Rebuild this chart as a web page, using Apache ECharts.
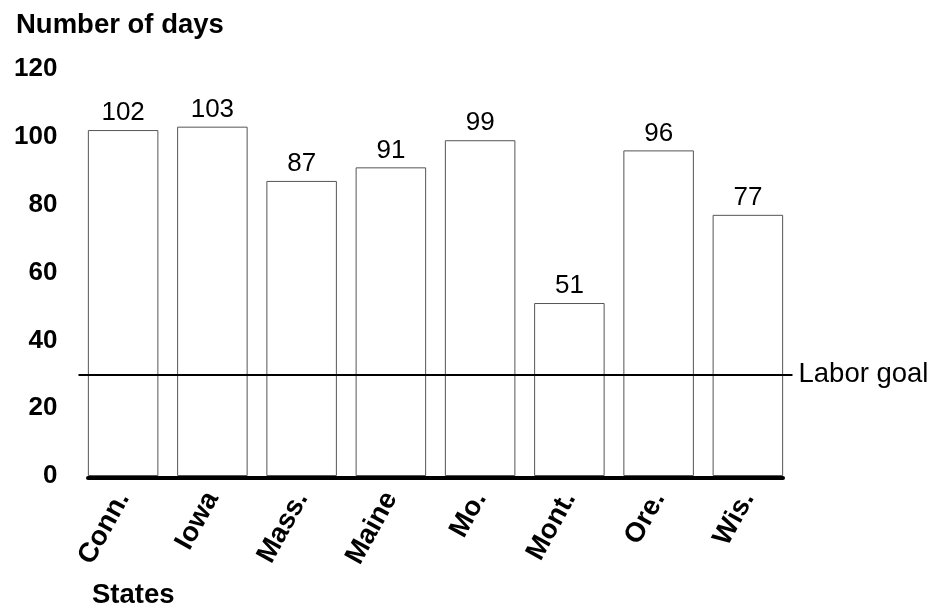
<!DOCTYPE html>
<html><head><meta charset="utf-8">
<script src="https://cdn.jsdelivr.net/npm/echarts@6/dist/echarts.min.js"></script>
<style>html,body{margin:0;padding:0;background:#fff}#c{width:933px;height:609px}</style>
</head><body><div id="c"></div>
<script>
const states = ['Conn.', 'Iowa', 'Mass.', 'Maine', 'Mo.', 'Mont.', 'Ore.', 'Wis.'];
const days = [102, 103, 87, 91, 99, 51, 96, 77];
const laborGoal = 30;
const yTicks = [0, 20, 40, 60, 80, 100, 120];

const FONT = '"Liberation Sans", Arial, Helvetica, sans-serif';
const chart = echarts.init(document.getElementById('c'), null, {renderer: 'canvas'});
chart.setOption({
  animation: false,
  backgroundColor: '#fff',
  textStyle: {fontFamily: FONT, color: '#000'},
  title: [
    {text: 'Number of days', left: 11, top: 6, textStyle: {fontFamily: FONT, fontWeight: 'bold', fontSize: 27.5, color: '#000'}},
    {text: 'States', left: 87, top: 576, textStyle: {fontFamily: FONT, fontWeight: 'bold', fontSize: 27.5, color: '#000'}}
  ],
  grid: [
    {left: 78.5, right: 140.5, top: 69, bottom: 133},
    {left: 88, right: 150, top: 69, bottom: 131}
  ],
  xAxis: [
    {
      type: 'category', gridIndex: 0, data: states, boundaryGap: true,
      axisLine: {show: false}, axisTick: {show: false},
      axisLabel: {rotate: 61, margin: 18, fontFamily: FONT, fontWeight: 'bold', fontSize: 27.5, color: '#000', interval: 0}
    },
    {
      type: 'value', gridIndex: 1, min: 0, max: 1,
      axisLine: {show: true, lineStyle: {color: '#000', width: 4}},
      axisTick: {show: false}, axisLabel: {show: false}, splitLine: {show: false}
    }
  ],
  yAxis: [
    {
      type: 'value', gridIndex: 0, min: yTicks[0], max: yTicks[yTicks.length - 1], interval: 20,
      axisLine: {show: false}, axisTick: {show: false}, splitLine: {show: false},
      axisLabel: {margin: 21, fontFamily: FONT, fontWeight: 'bold', fontSize: 26, color: '#000'}
    },
    {type: 'value', gridIndex: 1, show: false, min: 0, max: 1}
  ],
  series: [{
    type: 'bar', xAxisIndex: 0, yAxisIndex: 0, data: days,
    barCategoryGap: '21%',
    itemStyle: {color: '#fff', borderColor: '#555', borderWidth: 1},
    label: {show: true, position: 'top', distance: 4, fontFamily: FONT, fontSize: 26, color: '#000'},
    markLine: {
      silent: true, symbol: 'none',
      lineStyle: {color: '#000', width: 2, type: 'solid'},
      label: {show: true, position: 'end', formatter: 'Labor goal', fontFamily: FONT, fontSize: 27.5, color: '#000', distance: 6},
      data: [{yAxis: laborGoal}]
    }
  }]
});
</script></body></html>
